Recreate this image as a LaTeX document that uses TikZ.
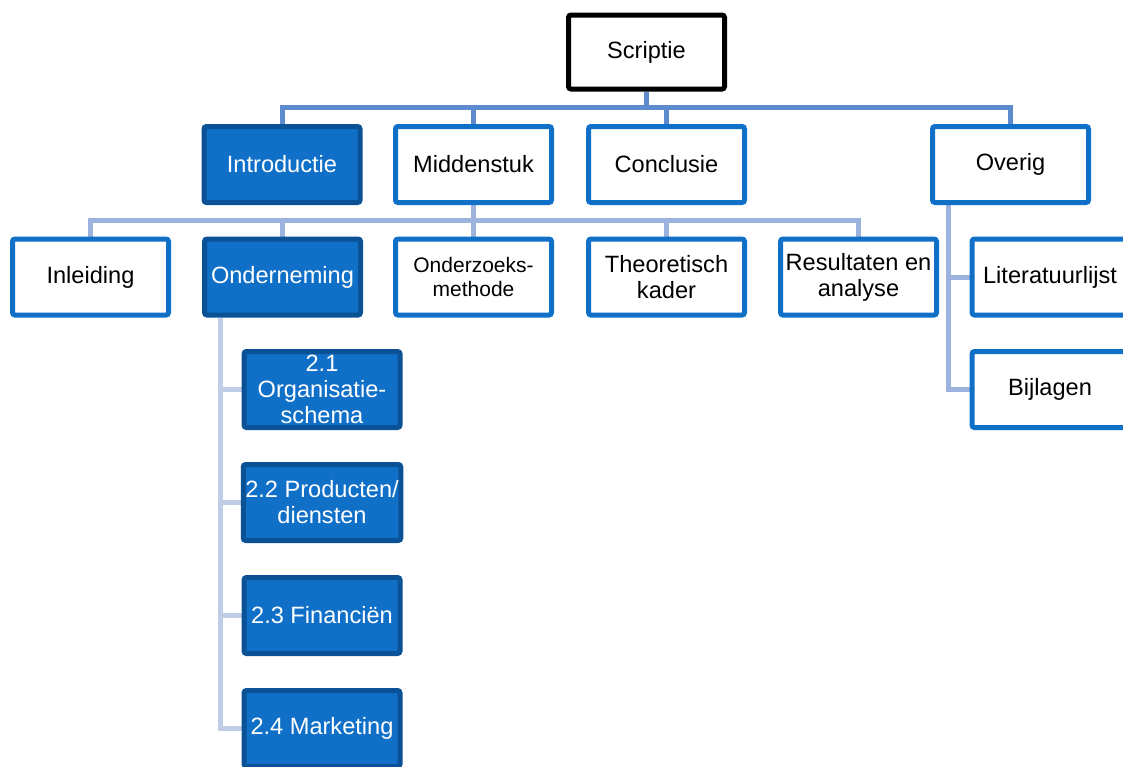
\documentclass[tikz,border=0pt]{standalone}
\usepackage{fontspec}
\setmainfont{Liberation Sans}
\usetikzlibrary{backgrounds}
\definecolor{bbord}{HTML}{1070C8}
\definecolor{dfill}{HTML}{1070C8}
\definecolor{dbord}{HTML}{0B5196}
\definecolor{conA}{HTML}{5E8BD0}
\definecolor{conB}{HTML}{9CB3DD}
\definecolor{conC}{HTML}{C1CCE6}
\tikzset{
  box/.style={rectangle, rounded corners=2.5pt, line width=5pt, minimum width=156pt, minimum height=76pt,
     inner sep=2pt, align=center, font=\fontsize{23.6}{26}\selectfont},
  wbox/.style={box, draw=bbord, fill=white, text=black},
  dbox/.style={box, draw=dbord, fill=dfill, text=white},
  topbox/.style={box, draw=black, fill=white, text=black, minimum height=74pt},
  conna/.style={draw=conA, line width=5pt},
  connb/.style={draw=conB, line width=5pt},
  connc/.style={draw=conC, line width=5pt},
}
\begin{document}
\begin{tikzpicture}[x=1pt,y=-1pt]
\useasboundingbox (0,0) rectangle (1123,766);
\clip (0,0) rectangle (1123,766);
% top
\node[topbox] (scriptie) at (646.5,52) {Scriptie};
% level 1
\node[dbox] (intro) at (282,164.5) {Introductie};
\node[wbox] (midden) at (473.5,164.5) {Middenstuk};
\node[wbox] (concl) at (666.5,164.5) {Conclusie};
\node[wbox] (overig) at (1010.5,164.5) {Overig};
% level 2
\node[wbox] (inleiding) at (90.5,277) {Inleiding};
\node[dbox] (onderneming) at (282.5,277) {Onderneming};
\node[wbox, font=\fontsize{21}{24}\selectfont] (onderzoek) at (473.5,277) {Onderzoeks-\\methode};
\node[wbox] (theor) at (666.5,277) {Theoretisch\\kader};
\node[wbox] (result) at (858.5,277) {Resultaten en\\analyse};
\node[wbox] (litlijst) at (1050,277) {Literatuurlijst};
\node[wbox] (bijlagen) at (1050,389.5) {Bijlagen};
% onderneming children
\node[dbox] (o1) at (322,389.5) {2.1\\Organisatie-\\schema};
\node[dbox] (o2) at (322,502.5) {2.2 Producten/\\diensten};
\node[dbox] (o3) at (322,615.5) {2.3 Financiën};
\node[dbox] (o4) at (322,728.5) {2.4 Marketing};
% connectors
\begin{scope}[on background layer]
  \coordinate (busA) at (0,107.5);
  \path[conna] (scriptie.south) -- (scriptie.south |- busA);
  \path[conna] (intro.north) -- (intro.north |- busA) -- (overig.north |- busA) -- (overig.north);
  \path[conna] (midden.north) -- (midden.north |- busA);
  \path[conna] (concl.north) -- (concl.north |- busA);
  \coordinate (busB) at (0,220.5);
  \path[connb] (midden.south) -- (midden.south |- busB);
  \path[connb] (inleiding.north) -- (inleiding.north |- busB) -- (result.north |- busB) -- (result.north);
  \path[connb] (onderneming.north) -- (onderneming.north |- busB);
  \path[connb] (onderzoek.north) -- (onderzoek.north |- busB);
  \path[connb] (theor.north) -- (theor.north |- busB);
  \coordinate (busO) at (948,0);
  \path[connb] (overig.south -| busO) -- (bijlagen.west -| busO) -- (bijlagen.west);
  \path[connb] (litlijst.west -| busO) -- (litlijst.west);
  \coordinate (busC) at (220,0);
  \path[connc] (onderneming.south -| busC) -- (o4.west -| busC) -- (o4.west);
  \path[connc] (o1.west -| busC) -- (o1.west);
  \path[connc] (o2.west -| busC) -- (o2.west);
  \path[connc] (o3.west -| busC) -- (o3.west);
\end{scope}
\end{tikzpicture}
\end{document}
